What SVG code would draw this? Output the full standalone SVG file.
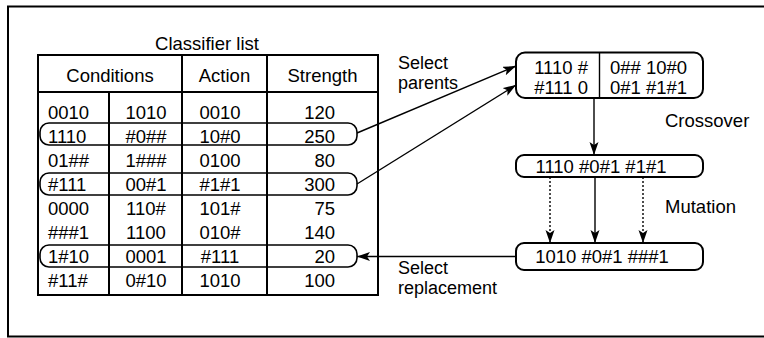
<svg xmlns="http://www.w3.org/2000/svg" width="764" height="338" viewBox="0 0 764 338">
<style>
text{font-family:"Liberation Sans",Arial,sans-serif;font-size:18.5px;fill:#000}
.m{text-anchor:middle}
.e{text-anchor:end}
.ln{stroke:#000;stroke-width:2;fill:none}
.thin{stroke:#000;stroke-width:1.4;fill:none}
.ov{stroke:#000;stroke-width:1.6;fill:none}
.box{stroke:#000;stroke-width:2;fill:#fff}
.dot{stroke:#000;stroke-width:1.4;fill:none;stroke-dasharray:2 2}
.lbl{font-size:18px}
</style>
<defs>
<marker id="ah" markerUnits="userSpaceOnUse" markerWidth="14" markerHeight="10" refX="13" refY="4.5" orient="auto">
<path d="M0,0 L13,4.5 L0,9 L3,4.5 z" fill="#000"/>
</marker>
</defs>
<g id="frame"><path class="ln" d="M770,6.5 H8 V336.5 H770"/></g>
<g id="classifier-list">
<text class="m" x="207" y="50">Classifier list</text>
<rect class="ln" x="38" y="55" width="340" height="240"/>
<path class="ln" d="M38,92 H378 M109,92 V295 M182,55 V295 M267,55 V295"/>
<text class="m" x="110" y="82">Conditions</text>
<text class="m" x="224.5" y="82">Action</text>
<text class="m" x="322.5" y="82">Strength</text>
<g id="rows">
<text x="48" y="119">0010</text><text class="m" x="146" y="119">1010</text><text class="m" x="220" y="119">0010</text><text class="e" x="335" y="119">120</text>
<text x="48" y="143">1110</text><text class="m" x="146" y="143">#0##</text><text class="m" x="220" y="143">10#0</text><text class="e" x="335" y="143">250</text>
<text x="48" y="167">01##</text><text class="m" x="146" y="167">1###</text><text class="m" x="220" y="167">0100</text><text class="e" x="335" y="167">80</text>
<text x="48" y="191">#111</text><text class="m" x="146" y="191">00#1</text><text class="m" x="220" y="191">#1#1</text><text class="e" x="335" y="191">300</text>
<text x="48" y="215">0000</text><text class="m" x="146" y="215">110#</text><text class="m" x="220" y="215">101#</text><text class="e" x="335" y="215">75</text>
<text x="48" y="239">###1</text><text class="m" x="146" y="239">1100</text><text class="m" x="220" y="239">010#</text><text class="e" x="335" y="239">140</text>
<text x="48" y="263">1#10</text><text class="m" x="146" y="263">0001</text><text class="m" x="220" y="263">#111</text><text class="e" x="335" y="263">20</text>
<text x="48" y="287">#11#</text><text class="m" x="146" y="287">0#10</text><text class="m" x="220" y="287">1010</text><text class="e" x="335" y="287">100</text>
</g>
<rect class="ov" x="40" y="123" width="317" height="22" rx="9"/>
<rect class="ov" x="40" y="173" width="317" height="22" rx="9"/>
<rect class="ov" x="40" y="245" width="317" height="22" rx="9"/>
</g>
<g id="parents">
<rect class="box" x="516" y="52.5" width="187" height="45.5" rx="9"/>
<path class="thin" d="M599.5,52.5 V98"/>
<text class="e" x="588" y="73.5">1110 #</text>
<text class="e" x="588" y="93.5">#111 0</text>
<text x="610" y="73.5">0## 10#0</text>
<text x="610" y="93.5">0#1 #1#1</text>
</g>
<g id="child">
<rect class="box" x="516" y="155" width="187" height="22" rx="8"/>
<text class="m" x="601" y="173">1110 #0#1 #1#1</text>
</g>
<g id="mutant">
<rect class="box" x="516" y="243" width="187" height="27" rx="8"/>
<text class="m" x="602" y="263">1010 #0#1 ###1</text>
</g>
<g id="labels">
<text class="lbl" x="398" y="69">Select</text>
<text class="lbl" x="398" y="89">parents</text>
<text x="665" y="127">Crossover</text>
<text x="665" y="213">Mutation</text>
<text class="lbl" x="398" y="274">Select</text>
<text class="lbl" x="398" y="294">replacement</text>
</g>
<g id="connectors">
<path class="thin" marker-end="url(#ah)" d="M357,133 L516,66"/>
<path class="thin" marker-end="url(#ah)" d="M357,184 L516,85"/>
<path class="thin" marker-end="url(#ah)" d="M594,98 V155"/>
<path class="dot" marker-end="url(#ah)" d="M550,177 V243"/>
<path class="thin" marker-end="url(#ah)" d="M595,177 V243"/>
<path class="dot" marker-end="url(#ah)" d="M643,177 V243"/>
<path class="thin" marker-end="url(#ah)" d="M516,256.5 H357"/>
</g>
</svg>
